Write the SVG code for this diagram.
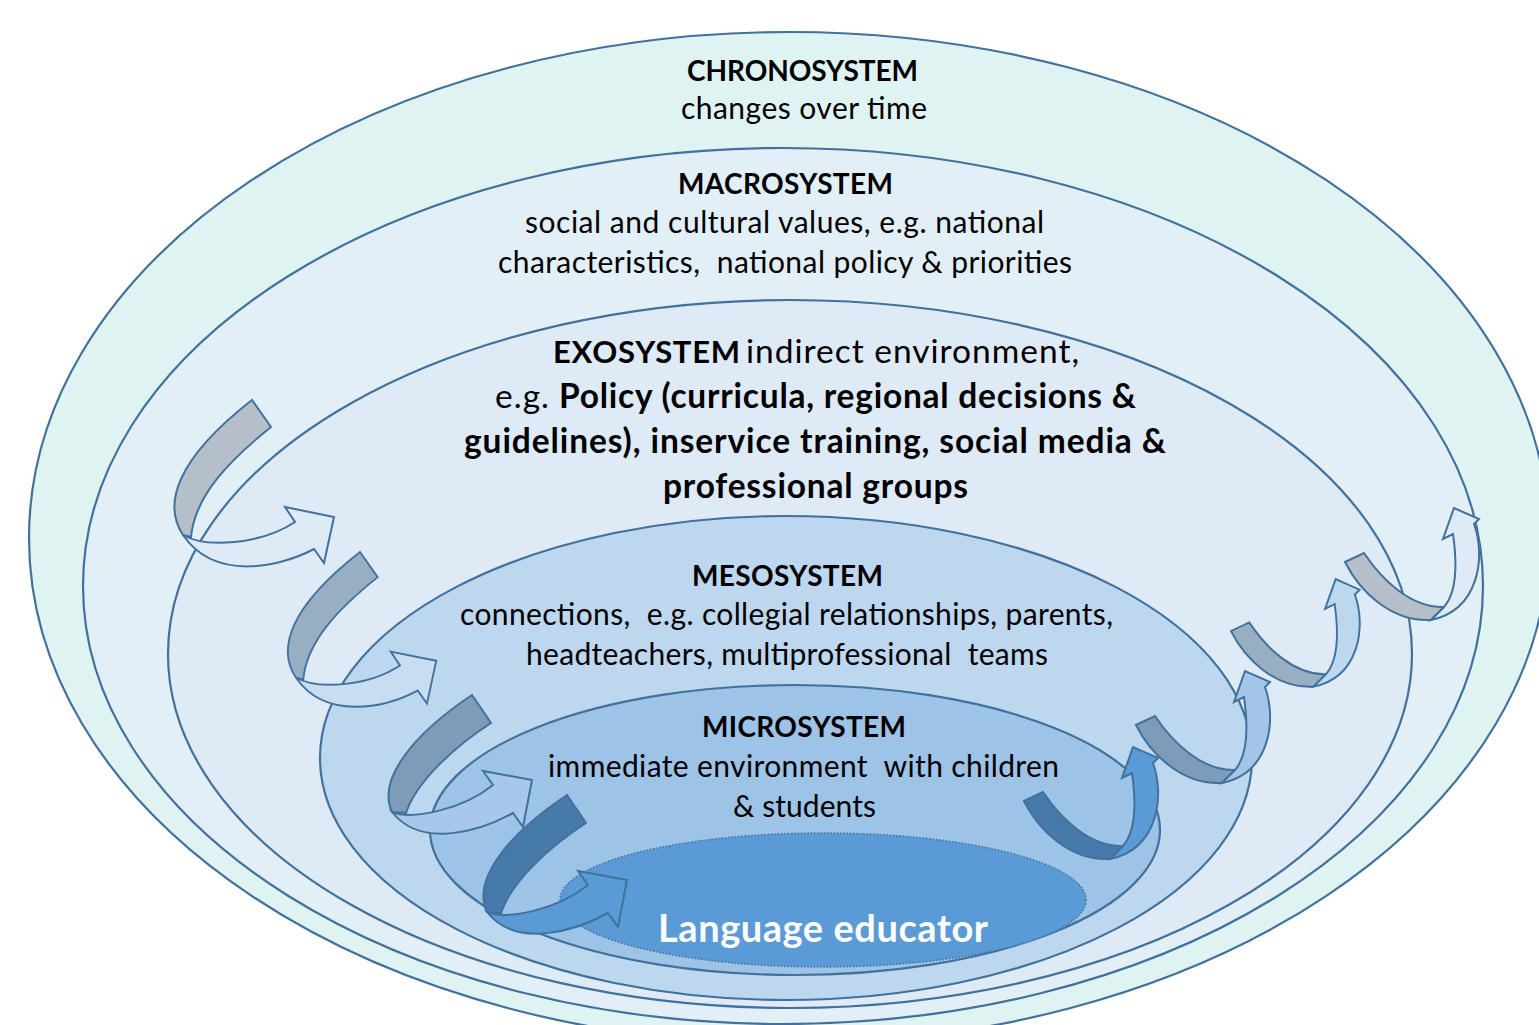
<svg xmlns="http://www.w3.org/2000/svg" width="1539" height="1025" viewBox="0 0 1539 1025">
  <style>
    .ring { stroke: #41719c; stroke-width: 2.2; }
    .t { font-family: "Lato", "Open Sans", sans-serif; font-size: 30px; fill: #000; white-space: pre; }
    .b { font-weight: bold; }
    .cap { font-size: 28px; }
    .exo { font-size: 33.5px; }
    .exocap { font-size: 31px; }
    .arrow { stroke: #41719c; stroke-width: 2; stroke-linejoin: miter; vector-effect: non-scaling-stroke; }
  </style>
  <defs>
    <!-- left-hand turning arrows: back band + front band with head pointing right -->
    <path id="tailBig" d="M0,0 L19,27 C-22,60 -57,95 -61,137 L-69,135 C-89,105 -77,60 0,0 Z"/>
    <path id="frontBig" d="M-69,135 C-47,148 8,145 43,122 L33,107 L82,117 L72,163 L62,149 C28,167 -37,182 -69,135 Z"/>
    <path id="tailSmall" d="M0,0 L19,28 C-15,50 -55,85 -66,118 L-80,117 C-95,85 -60,40 0,0 Z"/>
    <path id="frontSmall" d="M-80,117 C-60,125 -10,115 21,90 L11,76 L60,85 L51,132 L41,118 C10,135 -50,155 -80,117 Z"/>
    <!-- right-hand turning arrows: back band + front band with head pointing up -->
    <path id="tailR" d="M0,0 L19,-9 C37,18 66,46 99,45 L86,58 C45,60 14,28 0,0 Z"/>
    <path id="frontR" d="M99,45 C112,30 112,0 108,-28 L98,-23 L109,-54 L134,-43 L129,-38 C141,-5 134,48 86,58 Z"/>
  </defs>

  <rect x="0" y="0" width="1539" height="1025" fill="#ffffff"/>

  <g id="chronosystem">
    <ellipse class="ring" cx="789" cy="538" rx="760" ry="506" fill="#dff4f2"/>
    <text class="t b cap" x="802.5" y="81" text-anchor="middle" textLength="231" lengthAdjust="spacing">CHRONOSYSTEM</text>
    <text class="t" x="804" y="119" text-anchor="middle" textLength="246" lengthAdjust="spacing">changes over time</text>
  </g>

  <g id="macrosystem">
    <ellipse class="ring" cx="783" cy="586" rx="700" ry="438" fill="#e2eff6"/>
    <text class="t b cap" x="785.5" y="194" text-anchor="middle" textLength="215" lengthAdjust="spacing">MACROSYSTEM</text>
    <text class="t" x="784.5" y="233" text-anchor="middle" textLength="519" lengthAdjust="spacing">social and cultural values, e.g. national</text>
    <text class="t" x="785" y="273" text-anchor="middle" textLength="574" lengthAdjust="spacing">characteristics,  national policy &amp; priorities</text>
  </g>

  <g id="exosystem">
    <ellipse class="ring" cx="790" cy="654" rx="622" ry="354" fill="#deeaf6"/>
    <text class="t exocap b" x="553" y="363" textLength="187" lengthAdjust="spacing">EXOSYSTEM</text>
    <text class="t exo" x="746" y="363" textLength="333" lengthAdjust="spacing">indirect environment,</text>
    <text class="t exo" x="495" y="408" textLength="54" lengthAdjust="spacing">e.g.</text>
    <text class="t exo b" x="559" y="408" textLength="577" lengthAdjust="spacing">Policy (curricula, regional decisions &amp;</text>
    <text class="t exo b" x="815" y="453" text-anchor="middle" textLength="702" lengthAdjust="spacing">guidelines), inservice training, social media &amp;</text>
    <text class="t exo b" x="815.5" y="498" text-anchor="middle" textLength="305" lengthAdjust="spacing">professional groups</text>
  </g>

  <g id="mesosystem">
    <ellipse class="ring" cx="786" cy="758" rx="466" ry="242" fill="#bdd7ee"/>
    <text class="t b cap" x="787.5" y="586" text-anchor="middle" textLength="191" lengthAdjust="spacing">MESOSYSTEM</text>
    <text class="t" x="786.5" y="625" text-anchor="middle" textLength="653" lengthAdjust="spacing">connections,  e.g. collegial relationships, parents,</text>
    <text class="t" x="787" y="665" text-anchor="middle" textLength="522" lengthAdjust="spacing">headteachers, multiprofessional  teams</text>
  </g>

  <g id="microsystem">
    <ellipse class="ring" cx="795" cy="830" rx="365" ry="145" fill="#9dc3e6"/>
    <text class="t b cap" x="804" y="737" text-anchor="middle" textLength="204" lengthAdjust="spacing">MICROSYSTEM</text>
    <text class="t" x="803.5" y="777" text-anchor="middle" textLength="511" lengthAdjust="spacing">immediate environment  with children</text>
    <text class="t" x="804.5" y="817" text-anchor="middle" textLength="143" lengthAdjust="spacing">&amp; students</text>
  </g>

  <g id="educator">
    <ellipse cx="823" cy="900" rx="263" ry="67" fill="#5b9bd5" stroke="#41719c" stroke-width="1.5" stroke-dasharray="1.5 1.8"/>
    <text class="t b" x="823" y="942" text-anchor="middle" style="fill:#ffffff;font-size:38px" textLength="330" lengthAdjust="spacing">Language educator</text>
  </g>

  <g id="connectors">
    <!-- left side, descending inward -->
    <g transform="translate(252,400)">
      <use href="#tailBig" class="arrow" fill="#b5bfca"/>
      <use href="#frontBig" class="arrow" fill="#deeaf6"/>
    </g>
    <g transform="translate(360,552) scale(0.93)">
      <use href="#tailBig" class="arrow" fill="#98aec3"/>
      <use href="#frontBig" class="arrow" fill="#c8ddf1"/>
    </g>
    <g transform="translate(472,695)">
      <use href="#tailSmall" class="arrow" fill="#7e9cb9"/>
      <use href="#frontSmall" class="arrow" fill="#a7c8e9"/>
    </g>
    <g transform="translate(567,795)">
      <use href="#tailSmall" class="arrow" fill="#467aab"/>
      <use href="#frontSmall" class="arrow" fill="#5b9bd5"/>
    </g>
    <!-- right side, ascending outward -->
    <g transform="translate(1024,801)">
      <use href="#tailR" class="arrow" fill="#467aab"/>
      <use href="#frontR" class="arrow" fill="#5b9bd5"/>
    </g>
    <g transform="translate(1136,725)">
      <use href="#tailR" class="arrow" fill="#7e9cb9"/>
      <use href="#frontR" class="arrow" fill="#a3c5e8"/>
    </g>
    <g transform="translate(1231,631) scale(0.96)">
      <use href="#tailR" class="arrow" fill="#98aec3"/>
      <use href="#frontR" class="arrow" fill="#bdd7ee"/>
    </g>
    <g transform="translate(1345,562)">
      <use href="#tailR" class="arrow" fill="#b5bfca"/>
      <use href="#frontR" class="arrow" fill="#deeaf6"/>
    </g>
  </g>
</svg>
